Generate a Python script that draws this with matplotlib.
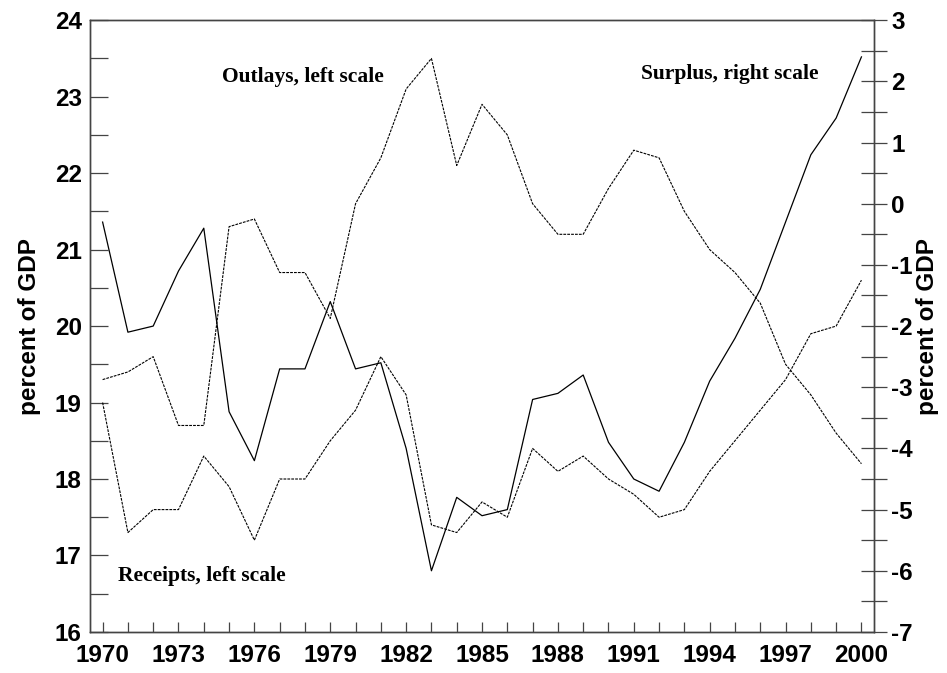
import matplotlib.pyplot as plt
from matplotlib.ticker import MultipleLocator

years = list(range(1970, 2001))
outlays = [19.3, 19.4, 19.6, 18.7, 18.7, 21.3, 21.4, 20.7, 20.7, 20.1,
           21.6, 22.2, 23.1, 23.5, 22.1, 22.9, 22.5, 21.6, 21.2, 21.2,
           21.8, 22.3, 22.2, 21.5, 21.0, 20.7, 20.3, 19.5, 19.1, 18.6, 18.2]
receipts = [19.0, 17.3, 17.6, 17.6, 18.3, 17.9, 17.2, 18.0, 18.0, 18.5,
            18.9, 19.6, 19.1, 17.4, 17.3, 17.7, 17.5, 18.4, 18.1, 18.3,
            18.0, 17.8, 17.5, 17.6, 18.1, 18.5, 18.9, 19.3, 19.9, 20.0, 20.6]
surplus = [-0.3, -2.1, -2.0, -1.1, -0.4, -3.4, -4.2, -2.7, -2.7, -1.6,
           -2.7, -2.6, -4.0, -6.0, -4.8, -5.1, -5.0, -3.2, -3.1, -2.8,
           -3.9, -4.5, -4.7, -3.9, -2.9, -2.2, -1.4, -0.3, 0.8, 1.4, 2.4]
year_ticks = list(range(1970, 2001, 3))

plt.rcParams['axes.unicode_minus'] = False
sans = {'family': 'Liberation Sans', 'weight': 'bold'}
serif = {'family': 'Liberation Serif', 'weight': 'bold', 'size': 15.5}
spine_c = '#444444'

fig = plt.figure(figsize=(9.47, 6.73), dpi=100)
ax = fig.add_axes([0.095, 0.061, 0.828, 0.909])
ax2 = ax.twinx()

dash = (0, (2.5, 1))
ax.plot(years, outlays, color='black', lw=0.8, linestyle=dash)
ax.plot(years, receipts, color='black', lw=0.8, linestyle=dash)
ax2.plot(years, surplus, color='black', lw=0.9)

ax.set_xlim(1969.5, 2000.5)
ax.set_ylim(16, 24)
ax2.set_ylim(-7, 3)

ax.set_xticks(year_ticks)
ax.xaxis.set_minor_locator(MultipleLocator(1))
ax.yaxis.set_major_locator(MultipleLocator(1))
ax.yaxis.set_minor_locator(MultipleLocator(0.5))
ax2.yaxis.set_major_locator(MultipleLocator(1))
ax2.yaxis.set_minor_locator(MultipleLocator(0.5))

ax.tick_params(axis='x', which='both', direction='in', length=7, width=0.9,
               color=spine_c, pad=9, top=False)
ax.tick_params(axis='y', which='both', direction='in', length=13, width=0.9,
               color=spine_c, pad=6)
ax2.tick_params(axis='y', which='both', direction='inout', length=19, width=0.9,
                color=spine_c, pad=3)

for a in (ax, ax2):
    for s in a.spines.values():
        s.set_color(spine_c)
        s.set_linewidth(1.0)

for lab in ax.get_xticklabels() + ax.get_yticklabels() + ax2.get_yticklabels():
    lab.set_fontfamily('Liberation Sans')
    lab.set_fontweight('bold')
    lab.set_fontsize(17.5)

ax.set_ylabel('percent of GDP', fontsize=17.5, labelpad=10, **sans)
ax2.set_ylabel('percent of GDP', fontsize=17.5, labelpad=2, **sans)

ax.text(0.168, 0.907, 'Outlays, left scale', transform=ax.transAxes,
        va='center', ha='left', **serif)
ax.text(0.703, 0.912, 'Surplus, right scale', transform=ax.transAxes,
        va='center', ha='left', **serif)
ax.text(0.036, 0.092, 'Receipts, left scale', transform=ax.transAxes,
        va='center', ha='left', **serif)

fig.savefig('out.png', dpi=100)
